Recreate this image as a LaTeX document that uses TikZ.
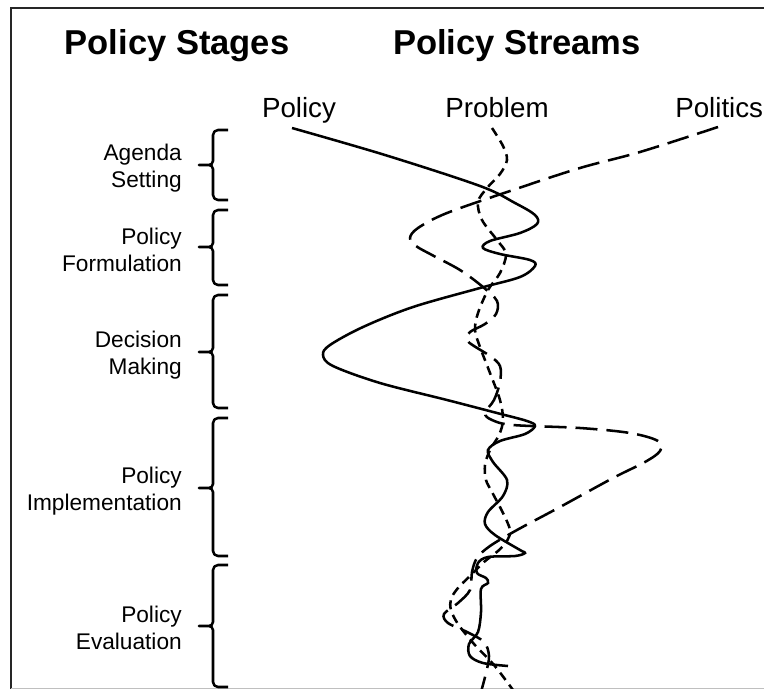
\documentclass[tikz,border=0pt]{standalone}
\usepackage{fontspec}
\setmainfont{Liberation Sans}
\begin{document}
\begin{tikzpicture}[x=0.75pt,y=-0.75pt,
  title/.style={font=\fontsize{25.9}{30}\selectfont\bfseries, inner sep=0pt, anchor=base},
  stream/.style={font=\fontsize{20.8}{25}\selectfont, inner sep=0pt, anchor=base},
  stage/.style={font=\fontsize{17}{20.25}\selectfont, align=right, inner sep=0pt, anchor=east},
  bracestyle/.style={line width=1.9pt, line join=round},
  curve/.style={line width=1.9pt},
  policyline/.style={curve},
  problemline/.style={curve, dash pattern=on 6.75pt off 4.5pt},
  politicsline/.style={curve, dash pattern=on 16.5pt off 6.75pt},
]
\useasboundingbox (0,0) rectangle (764,689);
% frame
\draw[line width=1.5pt, black!85] (11,700) -- (11,8) -- (775,8);
\draw[black!25, line width=0.6pt] (11,688) -- (764,688);

% titles
\node[title] (tstages) at (177,54) {Policy Stages};
\node[title] (tstreams) at (517,54) {Policy Streams};

% stream labels
\node[stream] (lpolicy) at (299,117) {Policy};
\node[stream] (lproblem) at (497,117) {Problem};
\node[stream, anchor=base west] (lpolitics) at (675,117) {Politics};

% stage labels
\node[stage] (sag) at (182,168) {Agenda\\Setting};
\node[stage] (sfo) at (182,250) {Policy\\Formulation};
\node[stage] (sdm) at (182,355) {Decision\\Making};
\node[stage] (sim) at (182,491) {Policy\\Implementation};
\node[stage] (sev) at (182,628) {Policy\\Evaluation};

% braces
\foreach \t/\m/\b in {130/165/200, 210/247/285, 295/352/408, 418/488/556, 565/626/687}{
  \draw[bracestyle] (228,\t) -- (218,\t) to[out=180,in=90] (213,\t+5)
    -- (213,\m-4) to[out=-90,in=0] (199,\m) to[out=0,in=90] (213,\m+4)
    -- (213,\b-5) to[out=-90,in=180] (218,\b) -- (228,\b);
}

% policy stream (solid)
\coordinate (polstart) at (292,128);
\draw[policyline] plot[smooth, tension=0.55] coordinates {
(polstart) (385,155) (480,186) (515,203) (535,215) (537,224) (520,233) (490,241)
(483,248) (500,254) (530,260) (535,266) (520,277) (480,288) (413,307) (363,327)
(330,345) (323,355) (333,366) (380,383) (447,400) (497,413) (527,421) (535,426)
(525,434) (500,441) (488,450) (493,462) (507,480) (503,496) (488,512) (485,524)
(495,535) (520,550) (525,553) (515,556) (488,557) (478,563) (477,573) (486,578)
(488,583) (481,589) (481,612) (478,632) (469,644) (470,656) (483,663) (508,666)};

% problem stream (short dashes)
\coordinate (probstart) at (492,128);
\draw[problemline] plot[smooth, tension=0.55] coordinates {
(probstart) (503,146) (507,160) (500,174) (487,188) (478,202) (482,220) (497,240)
(506,254) (500,273) (488,290) (478,313) (475,330) (480,347) (490,373) (500,400)
(503,420) (499,435) (490,450) (485,465) (486,480) (492,492) (503,513) (510,530)
(507,541) (498,551) (484,562) (470,576) (458,588) (451,599) (451,610) (458,624)
(474,644) (494,665) (513,690)};

% politics stream (long dashes)
\coordinate (politstart) at (718,127);
\draw[politicsline] plot[smooth, tension=0.55] coordinates {
(politstart) (640,152) (580,168) (513,190) (447,213) (418,228) (410,238) (416,246)
(432,255) (460,270) (483,287) (497,301) (496,314) (485,324) (470,332) (467,340)
(474,346) (490,356) (500,366) (500,382) (494,400) (485,413) (492,420) (513,425)
(580,428) (630,433) (658,441) (660,451) (645,462) (613,478) (560,507) (517,530)
(490,546) (477,558) (472,572) (470,590) (458,603) (444,614) (448,623) (467,632)
(484,642) (489,656) (486,673) (481,692)};
\end{tikzpicture}
\end{document}
